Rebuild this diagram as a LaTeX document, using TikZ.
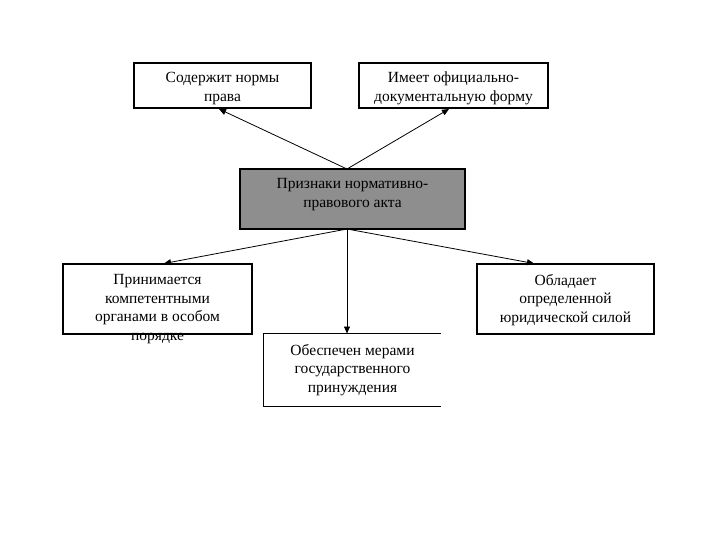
\documentclass[tikz,border=0pt]{standalone}
\usepackage{fontspec}
\setmainfont{Liberation Serif}
\usetikzlibrary{arrows.meta}
\definecolor{boxgray}{RGB}{142,142,142}
\begin{document}
\begin{tikzpicture}[x=1pt,y=-1pt,
  boxframe/.style={draw=black,line width=1.2pt,inner sep=0pt,minimum width=#1},
  boxtext/.style={anchor=north,align=center,inner sep=0pt,font=\fontsize{15.5}{18.7}\selectfont},
  conn/.style={line width=0.8pt,-{Triangle[length=7pt,width=6pt]}}]
\useasboundingbox (0,0) rectangle (720,540);
% boxes
\node[boxframe=177pt,minimum height=45pt] (b1) at (222.5,85.5) {};
\node[boxframe=189pt,minimum height=45pt] (b2) at (453.5,85.5) {};
\node[boxframe=225pt,minimum height=60pt,fill=boxgray] (c) at (352.5,199) {};
\node[boxframe=189pt,minimum height=70pt] (l) at (157.5,299) {};
\node[inner sep=0pt,minimum width=177pt,minimum height=72pt] (m) at (352.5,370) {};
\draw[line width=1.2pt] (m.north east) -- (m.north west) -- (m.south west) -- (m.south east);
\node[boxframe=177pt,minimum height=70pt] (r) at (565.5,299) {};
% texts
\node[boxtext] (t1) at (222.5,72) {Содержит нормы\\права};
\node[boxtext] (t2) at (453.5,72) {Имеет официально-\\документальную форму};
\node[boxtext] (tc) at (352.5,178) {Признаки нормативно-\\правового акта};
\node[boxtext] (tl) at (157.5,274) {Принимается\\компетентными\\органами в особом\\порядке};
\node[boxtext] (tm) at (352.5,344) {Обеспечен мерами\\государственного\\принуждения};
\node[boxtext] (tr) at (565.5,274) {Обладает\\определенной\\юридической силой};
% connector points
\coordinate (ct) at (347,169);
\coordinate (cb) at (347,229);
\coordinate (e1) at (219,109);
\coordinate (e2) at (449,109);
\coordinate (el) at (164,263.5);
\coordinate (em) at (347,333.5);
\coordinate (er) at (534,263.5);
\draw[conn] (ct) -- (e1);
\draw[conn] (ct) -- (e2);
\draw[conn] (cb) -- (el);
\draw[conn] (cb) -- (em);
\draw[conn] (cb) -- (er);
\end{tikzpicture}
\end{document}
